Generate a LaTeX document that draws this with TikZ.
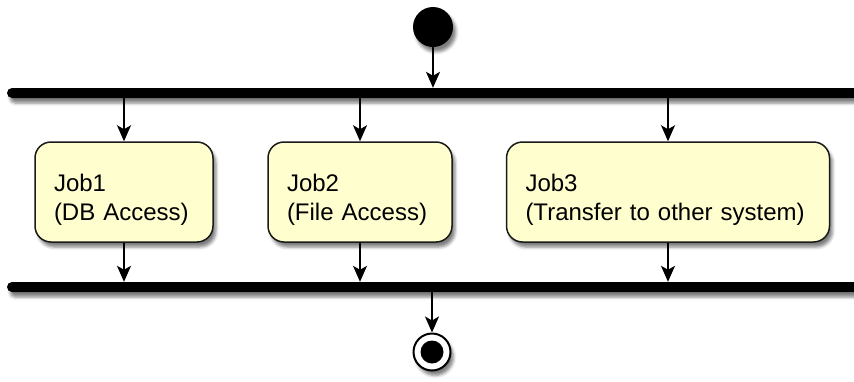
\documentclass[tikz,border=0pt]{standalone}
\usepackage{fontspec}
\setmainfont{Liberation Sans}
\usetikzlibrary{arrows.meta,shadows.blur}
\definecolor{boxfill}{HTML}{FEFECE}
\definecolor{boxline}{HTML}{1A1A1A}
\begin{document}
\begin{tikzpicture}[x=1pt,y=-1pt,
 shd/.style={blur shadow={shadow xshift=3pt,shadow yshift=-5pt,shadow blur radius=3pt,shadow opacity=50}},
 bar/.style={shd, fill=black, draw=none, rounded corners=5pt, minimum height=10pt, minimum width=853pt, inner sep=0pt},
 job/.style={shd, draw=boxline, fill=boxfill, line width=1.5pt, rounded corners=16pt, text height=49pt, text depth=51pt, inner xsep=19pt, inner ysep=0pt, align=left, font=\fontsize{24}{29.5}\selectfont},
 arr/.style={line width=1.5pt, arrows={-Stealth[length=16pt,width=14pt,inset=4pt]}},
 startnode/.style={shd, circle, fill=black, minimum size=40pt, inner sep=0pt},
 endouter/.style={shd, circle, draw=black, line width=2pt, fill=white, minimum size=37pt, inner sep=0pt},
 enddot/.style={circle, fill=black, minimum size=23pt, inner sep=0pt},
]
\useasboundingbox (0,0) rectangle (854,381);
\node[startnode] (start) at (433,27) {};
\node[bar] (fork) at (433.5,93) {};
\node[bar] (join) at (433.5,287) {};
\node[job, text width=140pt] (job1) at (124,192) {Job1\\(DB Access)};
\node[job, text width=146pt] (job2) at (360,192) {Job2\\(File Access)};
\node[job, text width=285pt] (job3) at (668,192) {Job3\\(Transfer to other system)};
\node[endouter] (endc) at (432,352) {};
\node[enddot] (enddot) at (endc.center) {};
\draw[arr] (start.south) -- (start.south |- fork.north);
\draw[arr] (job1.north |- fork.south) -- (job1.north);
\draw[arr] (job2.north |- fork.south) -- (job2.north);
\draw[arr] (job3.north |- fork.south) -- (job3.north);
\draw[arr] (job1.south) -- (job1.south |- join.north);
\draw[arr] (job2.south) -- (job2.south |- join.north);
\draw[arr] (job3.south) -- (job3.south |- join.north);
\draw[arr] (endc.north |- join.south) -- (endc.north);
\end{tikzpicture}
\end{document}
